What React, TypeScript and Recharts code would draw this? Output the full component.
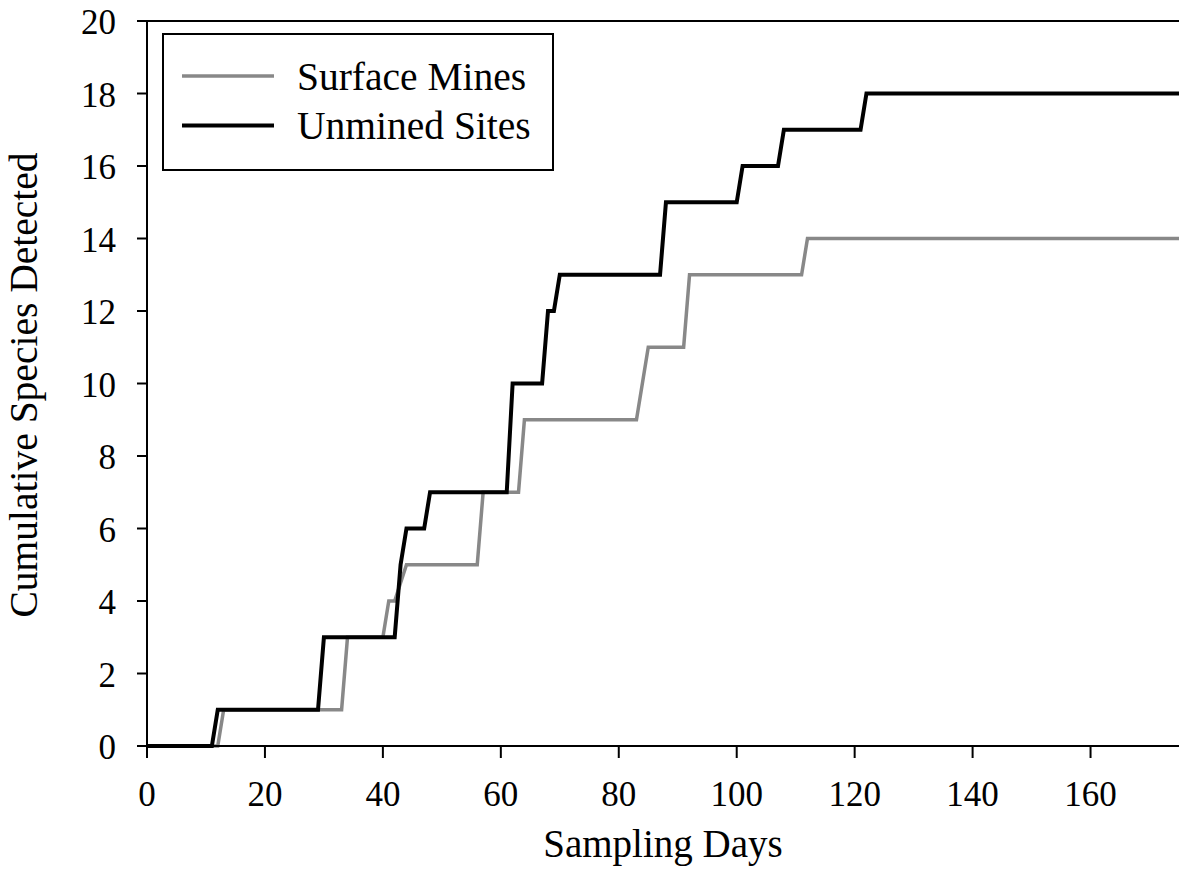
import React from "react";
import { LineChart, Line, XAxis, YAxis, ReferenceLine, Legend } from "recharts";

// Sampling day / cumulative species
const surfaceDays = [0, 12, 13, 33, 34, 40, 41, 42, 44, 56, 57, 63, 64, 83, 85, 91, 92, 111, 112, 175];
const surfaceSpecies = [0, 0, 1, 1, 3, 3, 4, 4, 5, 5, 7, 7, 9, 9, 11, 11, 13, 13, 14, 14];

const unminedDays = [0, 11, 12, 29, 30, 42, 43, 44, 47, 48, 61, 62, 67, 68, 69, 70, 87, 88, 100, 101, 107, 108, 121, 122, 175];
const unminedSpecies = [0, 0, 1, 1, 3, 3, 5, 6, 6, 7, 7, 10, 10, 12, 12, 13, 13, 15, 15, 16, 16, 17, 17, 18, 18];

const xTicks = [0, 20, 40, 60, 80, 100, 120, 140, 160];
const yTicks = [0, 2, 4, 6, 8, 10, 12, 14, 16, 18, 20];

const seriesNames = ["Surface Mines", "Unmined Sites"];
const seriesColors = ["#888888", "#000000"];
const seriesWidths = [3.5, 4];

const surfaceData = surfaceDays.map((d, i) => ({ day: d, species: surfaceSpecies[i] }));
const unminedData = unminedDays.map((d, i) => ({ day: d, species: unminedSpecies[i] }));

const FONT = "'Liberation Serif', 'Times New Roman', serif";

const XTick = (props: any) => {
  const { x, payload } = props;
  return (
    <text x={x} y={806} textAnchor="middle" fontFamily={FONT} fontSize={35} fill="#000">
      {payload.value}
    </text>
  );
};

const YTick = (props: any) => {
  const { y, payload } = props;
  return (
    <text x={116} y={y} dy={13} textAnchor="end" fontFamily={FONT} fontSize={35} fill="#000">
      {payload.value}
    </text>
  );
};

const LegendBox = () => (
  <svg width={394} height={140} style={{ display: "block" }}>
    <rect x={1} y={1} width={390} height={136} fill="#fff" stroke="#000" strokeWidth={2} />
    {seriesNames.map((n, i) => (
      <g key={n}>
        <line x1={20} x2={112} y1={43 + i * 49.5} y2={43 + i * 49.5} stroke={seriesColors[i]} strokeWidth={seriesWidths[i]} />
        <text x={135} y={57 + i * 49} fontFamily={FONT} fontSize={39.5} fill="#000">
          {n}
        </text>
      </g>
    ))}
  </svg>
);

export default function App() {
  return (
    <div style={{ position: "absolute", left: 0, top: 0, background: "#fff" }}>
      <LineChart width={1179} height={893} margin={{ top: 21, right: 0, left: 0, bottom: 0 }}>
        <XAxis
          type="number"
          dataKey="day"
          domain={[0, 175]}
          ticks={xTicks}
          allowDataOverflow
          height={147}
          tickSize={12}
          axisLine={{ stroke: "#000", strokeWidth: 2 }}
          tickLine={{ stroke: "#000", strokeWidth: 2 }}
          tick={<XTick />}
          label={{
            content: () => (
              <text x={663} y={857} textAnchor="middle" fontFamily={FONT} fontSize={39} fill="#000">
                Sampling Days
              </text>
            ),
          }}
        />
        <YAxis
          type="number"
          domain={[0, 20]}
          ticks={yTicks}
          width={147}
          tickSize={10}
          axisLine={{ stroke: "#000", strokeWidth: 2 }}
          tickLine={{ stroke: "#000", strokeWidth: 2 }}
          tick={<YTick />}
          label={{
            content: () => (
              <text
                x={37}
                y={385}
                transform="rotate(-90 37 385)"
                textAnchor="middle"
                fontFamily={FONT}
                fontSize={39.5}
                fill="#000"
              >
                Cumulative Species Detected
              </text>
            ),
          }}
        />
        <ReferenceLine y={20} stroke="#000" strokeWidth={2} />
        <Line
          data={surfaceData}
          dataKey="species"
          name={seriesNames[0]}
          type="linear"
          stroke={seriesColors[0]}
          strokeWidth={seriesWidths[0]}
          dot={false}
          activeDot={false}
          isAnimationActive={false}
        />
        <Line
          data={unminedData}
          dataKey="species"
          name={seriesNames[1]}
          type="linear"
          stroke={seriesColors[1]}
          strokeWidth={seriesWidths[1]}
          dot={false}
          activeDot={false}
          isAnimationActive={false}
        />
        <Legend
          layout="vertical"
          align="center"
          verticalAlign="middle"
          content={<LegendBox />}
          wrapperStyle={{ left: 162, top: 33, width: 394, height: 140 }}
        />
      </LineChart>
    </div>
  );
}
